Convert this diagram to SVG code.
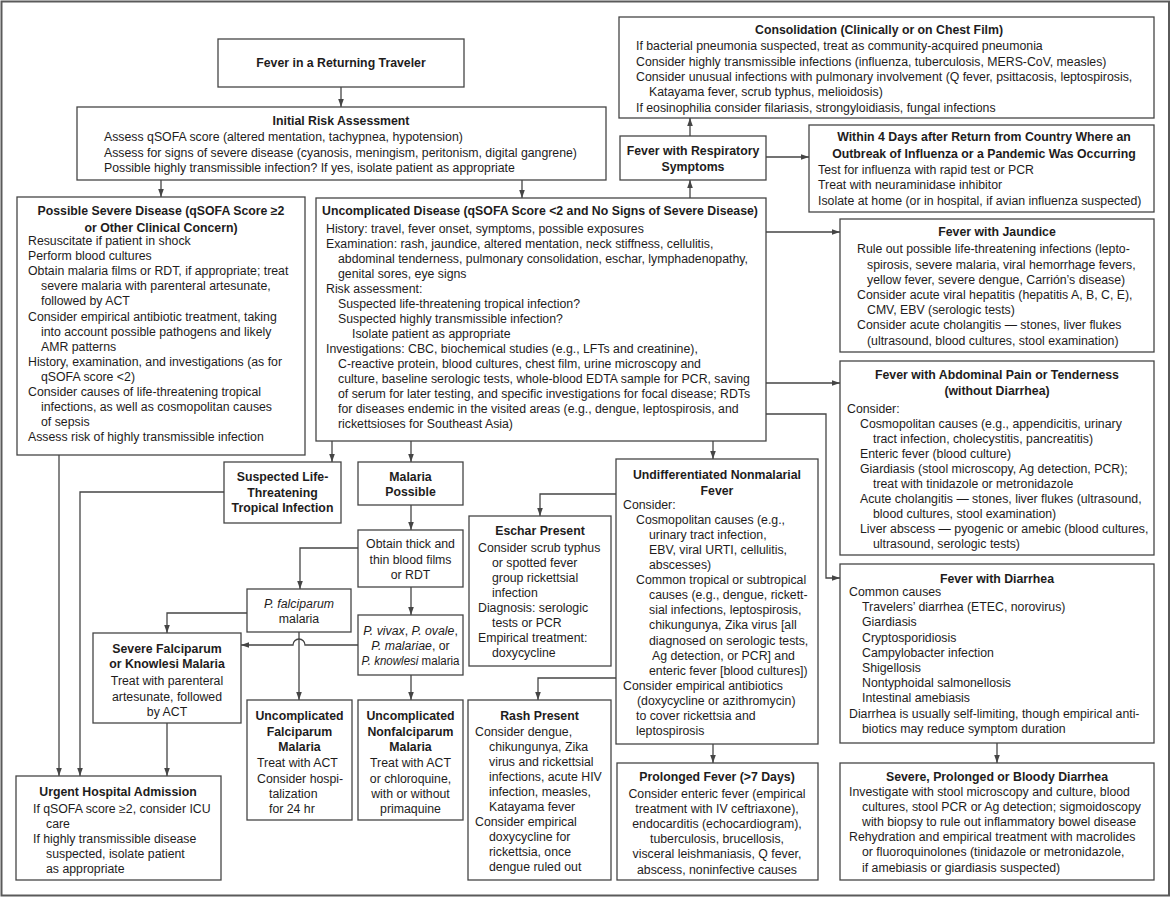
<svg xmlns="http://www.w3.org/2000/svg" width="1174" height="898" viewBox="0 0 1174 898">
<style>
text{font-family:"Liberation Sans",Arial,sans-serif;font-size:12.3px;fill:#1e1c1c}
.h{font-weight:bold;font-size:12.3px}
.m{text-anchor:middle}
.i{font-style:italic}
.box{fill:#fff;stroke:#454545;stroke-width:1.3}
.frame{fill:#fff;stroke:#5a5a5a;stroke-width:2}
#connectors path{fill:none;stroke:#454545;stroke-width:1.3;marker-end:url(#arr)}
</style>
<defs>
<marker id="arr" viewBox="0 0 10 10" refX="10" refY="5" markerWidth="8" markerHeight="8" markerUnits="userSpaceOnUse" orient="auto">
<path d="M0,1.5 L10,5 L0,8.5 z" fill="#454545"/>
</marker>
</defs>
<rect class="frame" x="1.5" y="1.5" width="1167.5" height="894"/>

<g id="connectors">
<path d="M341,87 V107"/>
<path d="M161,180 V197"/>
<path d="M522,180 V198"/>
<path d="M690,198 V180"/>
<path d="M690,136 V118"/>
<path d="M766,157 H809"/>
<path d="M766,232 H840"/>
<path d="M766,383 H840"/>
<path d="M766,414 H826 V578 H840"/>
<path d="M332,441 V462"/>
<path d="M411,441 V462"/>
<path d="M713,441 V459"/>
<path d="M411,505 V530"/>
<path d="M358,548 H300 V589"/>
<path d="M616,494 H540 V516"/>
<path d="M616,678 H538 V700"/>
<path d="M247,613 H167 V633"/>
<path d="M358,645 H305 A6,6 0 0 0 293,645 H241"/>
<path d="M299,632 V700"/>
<path d="M411,587 V615"/>
<path d="M411,675 V700"/>
<path d="M167,723 V776"/>
<path d="M59,455 V776"/>
<path d="M224,492 H80 V776"/>
<path d="M713,744 V763"/>
<path d="M997,743 V763"/>
</g>

<g id="start">
<rect class="box" x="218" y="39" width="246" height="48"/>
<text class="h m" x="341" y="67">Fever in a Returning Traveler</text>
</g>

<g id="initial">
<rect class="box" x="77" y="107" width="529" height="73"/>
<text class="h m" x="341" y="125">Initial Risk Assessment</text>
<text x="104" y="141">Assess qSOFA score (altered mentation, tachypnea, hypotension)</text>
<text x="104" y="156.7">Assess for signs of severe disease (cyanosis, meningism, peritonism, digital gangrene)</text>
<text x="104" y="171.7">Possible highly transmissible infection? If yes, isolate patient as appropriate</text>
</g>

<g id="severe">
<rect class="box" x="17" y="197" width="288" height="258"/>
<text class="h m" x="161" y="215">Possible Severe Disease (qSOFA Score ≥2</text>
<text class="h m" x="161" y="231.5">or Other Clinical Concern)</text>
<text x="28" y="245">Resuscitate if patient in shock</text>
<text x="28" y="260.1">Perform blood cultures</text>
<text x="28" y="275.2">Obtain malaria films or RDT, if appropriate; treat</text>
<text x="41" y="290.3">severe malaria with parenteral artesunate,</text>
<text x="41" y="305.4">followed by ACT</text>
<text x="28" y="320.5">Consider empirical antibiotic treatment, taking</text>
<text x="41" y="335.6">into account possible pathogens and likely</text>
<text x="41" y="350.7">AMR patterns</text>
<text x="28" y="365.8">History, examination, and investigations (as for</text>
<text x="41" y="380.9">qSOFA score &lt;2)</text>
<text x="28" y="396">Consider causes of life-threatening tropical</text>
<text x="41" y="411.1">infections, as well as cosmopolitan causes</text>
<text x="41" y="426.2">of sepsis</text>
<text x="28" y="441.3">Assess risk of highly transmissible infection</text>
</g>

<g id="uncomplicated">
<rect class="box" x="316" y="198" width="450" height="243"/>
<text class="h m" x="540" y="215">Uncomplicated Disease (qSOFA Score &lt;2 and No Signs of Severe Disease)</text>
<text x="326" y="232.6">History: travel, fever onset, symptoms, possible exposures</text>
<text x="326" y="247.7">Examination: rash, jaundice, altered mentation, neck stiffness, cellulitis,</text>
<text x="338" y="262.7">abdominal tenderness, pulmonary consolidation, eschar, lymphadenopathy,</text>
<text x="338" y="277.8">genital sores, eye signs</text>
<text x="326" y="292.8">Risk assessment:</text>
<text x="338" y="307.9">Suspected life-threatening tropical infection?</text>
<text x="338" y="322.9">Suspected highly transmissible infection?</text>
<text x="352" y="338">Isolate patient as appropriate</text>
<text x="326" y="353">Investigations: CBC, biochemical studies (e.g., LFTs and creatinine),</text>
<text x="338" y="368.1">C-reactive protein, blood cultures, chest film, urine microscopy and</text>
<text x="338" y="383.1">culture, baseline serologic tests, whole-blood EDTA sample for PCR, saving</text>
<text x="338" y="398.2">of serum for later testing, and specific investigations for focal disease; RDTs</text>
<text x="338" y="413.2">for diseases endemic in the visited areas (e.g., dengue, leptospirosis, and</text>
<text x="338" y="428.3">rickettsioses for Southeast Asia)</text>
</g>

<g id="respiratory">
<rect class="box" x="620" y="136" width="146" height="44"/>
<text class="h m" x="693" y="155">Fever with Respiratory</text>
<text class="h m" x="693" y="170.5">Symptoms</text>
</g>

<g id="consolidation">
<rect class="box" x="619" y="17" width="535" height="101"/>
<text class="h m" x="879" y="34">Consolidation (Clinically or on Chest Film)</text>
<text x="636" y="50">If bacterial pneumonia suspected, treat as community-acquired pneumonia</text>
<text x="636" y="65.6">Consider highly transmissible infections (influenza, tuberculosis, MERS-CoV, measles)</text>
<text x="636" y="81">Consider unusual infections with pulmonary involvement (Q fever, psittacosis, leptospirosis,</text>
<text x="649" y="96.3">Katayama fever, scrub typhus, melioidosis)</text>
<text x="636" y="111.6">If eosinophilia consider filariasis, strongyloidiasis, fungal infections</text>
</g>

<g id="within4days">
<rect class="box" x="809" y="125" width="345" height="87"/>
<text class="h m" x="984" y="141">Within 4 Days after Return from Country Where an</text>
<text class="h m" x="984" y="157.6">Outbreak of Influenza or a Pandemic Was Occurring</text>
<text x="818" y="174.3">Test for influenza with rapid test or PCR</text>
<text x="818" y="189.3">Treat with neuraminidase inhibitor</text>
<text x="818" y="205">Isolate at home (or in hospital, if avian influenza suspected)</text>
</g>

<g id="jaundice">
<rect class="box" x="840" y="219" width="314" height="133"/>
<text class="h m" x="997" y="236">Fever with Jaundice</text>
<text x="857" y="253.3">Rule out possible life-threatening infections (lepto-</text>
<text x="867" y="268.5">spirosis, severe malaria, viral hemorrhage fevers,</text>
<text x="867" y="283.7">yellow fever, severe dengue, Carrión’s disease)</text>
<text x="857" y="298.9">Consider acute viral hepatitis (hepatitis A, B, C, E),</text>
<text x="867" y="314.1">CMV, EBV (serologic tests)</text>
<text x="857" y="329.3">Consider acute cholangitis — stones, liver flukes</text>
<text x="867" y="344.5">(ultrasound, blood cultures, stool examination)</text>
</g>

<g id="abdominal">
<rect class="box" x="840" y="361" width="314" height="194"/>
<text class="h m" x="997" y="379.3">Fever with Abdominal Pain or Tenderness</text>
<text class="h m" x="997" y="395">(without Diarrhea)</text>
<text x="847" y="412.6">Consider:</text>
<text x="860" y="427.7">Cosmopolitan causes (e.g., appendicitis, urinary</text>
<text x="873" y="442.8">tract infection, cholecystitis, pancreatitis)</text>
<text x="860" y="457.8">Enteric fever (blood culture)</text>
<text x="860" y="472.9">Giardiasis (stool microscopy, Ag detection, PCR);</text>
<text x="873" y="488">treat with tinidazole or metronidazole</text>
<text x="860" y="503.1">Acute cholangitis — stones, liver flukes (ultrasound,</text>
<text x="873" y="518.2">blood cultures, stool examination)</text>
<text x="860" y="533.2">Liver abscess — pyogenic or amebic (blood cultures,</text>
<text x="873" y="548.3">ultrasound, serologic tests)</text>
</g>

<g id="diarrhea">
<rect class="box" x="840" y="564" width="314" height="179"/>
<text class="h m" x="997" y="582.6">Fever with Diarrhea</text>
<text x="849" y="596">Common causes</text>
<text x="862" y="611.2">Travelers’ diarrhea (ETEC, norovirus)</text>
<text x="862" y="626.4">Giardiasis</text>
<text x="862" y="641.6">Cryptosporidiosis</text>
<text x="862" y="656.8">Campylobacter infection</text>
<text x="862" y="672">Shigellosis</text>
<text x="862" y="687.2">Nontyphoidal salmonellosis</text>
<text x="862" y="702.4">Intestinal amebiasis</text>
<text x="849" y="717.6">Diarrhea is usually self-limiting, though empirical anti-</text>
<text x="862" y="732.8">biotics may reduce symptom duration</text>
</g>

<g id="severeDiarrhea">
<rect class="box" x="840" y="763" width="314" height="117"/>
<text class="h m" x="997" y="781.3">Severe, Prolonged or Bloody Diarrhea</text>
<text x="849" y="796">Investigate with stool microscopy and culture, blood</text>
<text x="862" y="811.1">cultures, stool PCR or Ag detection; sigmoidoscopy</text>
<text x="862" y="826.2">with biopsy to rule out inflammatory bowel disease</text>
<text x="849" y="841.3">Rehydration and empirical treatment with macrolides</text>
<text x="862" y="856.4">or fluoroquinolones (tinidazole or metronidazole,</text>
<text x="862" y="871.5">if amebiasis or giardiasis suspected)</text>
</g>

<g id="suspectedTropical">
<rect class="box" x="224" y="462" width="117" height="61"/>
<text class="h m" x="282.5" y="481">Suspected Life-</text>
<text class="h m" x="282.5" y="496.5">Threatening</text>
<text class="h m" x="282.5" y="512">Tropical Infection</text>
</g>

<g id="malariaPossible">
<rect class="box" x="358" y="462" width="105" height="43"/>
<text class="h m" x="410.5" y="480.5">Malaria</text>
<text class="h m" x="410.5" y="496">Possible</text>
</g>

<g id="bloodFilms">
<rect class="box" x="358" y="530" width="105" height="57"/>
<text class="m" x="410.5" y="548.3">Obtain thick and</text>
<text class="m" x="410.5" y="564">thin blood films</text>
<text class="m" x="410.5" y="579.3">or RDT</text>
</g>

<g id="pFalciparum">
<rect class="box" x="247" y="589" width="104" height="43"/>
<text class="m i" x="299" y="608">P. falciparum</text>
<text class="m" x="299" y="623">malaria</text>
</g>

<g id="pVivax">
<rect class="box" x="358" y="615" width="105" height="60"/>
<text class="m" x="410.5" y="634.5"><tspan class="i">P. vivax</tspan>, <tspan class="i">P. ovale</tspan>,</text>
<text class="m" x="410.5" y="649.6"><tspan class="i">P. malariae</tspan>, or</text>
<text class="m" x="410.5" y="665" textLength="98" lengthAdjust="spacingAndGlyphs"><tspan class="i">P. knowlesi</tspan> malaria</text>
</g>

<g id="severeFalciparum">
<rect class="box" x="93" y="633" width="148" height="90"/>
<text class="h m" x="167" y="652.6">Severe Falciparum</text>
<text class="h m" x="167" y="668.3">or Knowlesi Malaria</text>
<text class="m" x="167" y="684.6">Treat with parenteral</text>
<text class="m" x="167" y="700.5">artesunate, followed</text>
<text class="m" x="167" y="715.6">by ACT</text>
</g>

<g id="urgentAdmission">
<rect class="box" x="16" y="776" width="205" height="104"/>
<text class="h m" x="118" y="795.6">Urgent Hospital Admission</text>
<text x="33" y="813">If qSOFA score ≥2, consider ICU</text>
<text x="46" y="828.1">care</text>
<text x="33" y="843.2">If highly transmissible disease</text>
<text x="46" y="858.3">suspected, isolate patient</text>
<text x="46" y="873.4">as appropriate</text>
</g>

<g id="uncomplicatedFalciparum">
<rect class="box" x="247" y="700" width="105" height="120"/>
<text class="h m" x="299.5" y="719.6">Uncomplicated</text>
<text class="h m" x="299.5" y="735.6">Falciparum</text>
<text class="h m" x="299.5" y="750.6">Malaria</text>
<text x="257" y="767.3">Treat with ACT</text>
<text x="257" y="782.9">Consider hospi-</text>
<text x="269" y="798.2">talization</text>
<text x="269" y="813.4">for 24 hr</text>
</g>

<g id="uncomplicatedNonfalciparum">
<rect class="box" x="358" y="700" width="105" height="120"/>
<text class="h m" x="410.5" y="719.6">Uncomplicated</text>
<text class="h m" x="410.5" y="735.6">Nonfalciparum</text>
<text class="h m" x="410.5" y="750.6">Malaria</text>
<text class="m" x="410.5" y="767.3">Treat with ACT</text>
<text class="m" x="410.5" y="782.9">or chloroquine,</text>
<text class="m" x="410.5" y="798.2">with or without</text>
<text class="m" x="410.5" y="813.4">primaquine</text>
</g>

<g id="eschar">
<rect class="box" x="469" y="516" width="142" height="150"/>
<text class="h m" x="540" y="535.3">Eschar Present</text>
<text x="478" y="551.6">Consider scrub typhus</text>
<text x="492" y="566.7">or spotted fever</text>
<text x="492" y="581.8">group rickettsial</text>
<text x="492" y="596.9">infection</text>
<text x="478" y="612">Diagnosis: serologic</text>
<text x="492" y="627.1">tests or PCR</text>
<text x="478" y="642.2">Empirical treatment:</text>
<text x="492" y="657.3">doxycycline</text>
</g>

<g id="rash">
<rect class="box" x="468" y="700" width="143" height="180"/>
<text class="h m" x="539.5" y="719.6">Rash Present</text>
<text x="475" y="735.6">Consider dengue,</text>
<text x="489" y="750.7">chikungunya, Zika</text>
<text x="489" y="765.7">virus and rickettsial</text>
<text x="489" y="780.8">infections, acute HIV</text>
<text x="489" y="795.9">infection, measles,</text>
<text x="489" y="810.9">Katayama fever</text>
<text x="475" y="826">Consider empirical</text>
<text x="489" y="841.1">doxycycline for</text>
<text x="489" y="856.2">rickettsia, once</text>
<text x="489" y="871.2">dengue ruled out</text>
</g>

<g id="undifferentiated">
<rect class="box" x="616" y="459" width="202" height="285"/>
<text class="h m" x="717" y="478.6">Undifferentiated Nonmalarial</text>
<text class="h m" x="717" y="495.3">Fever</text>
<text x="623" y="508.6">Consider:</text>
<text x="636" y="523.7">Cosmopolitan causes (e.g.,</text>
<text x="649" y="538.8">urinary tract infection,</text>
<text x="649" y="553.9">EBV, viral URTI, cellulitis,</text>
<text x="649" y="569">abscesses)</text>
<text x="636" y="584.1">Common tropical or subtropical</text>
<text x="649" y="599.2">causes (e.g., dengue, rickett-</text>
<text x="649" y="614.3">sial infections, leptospirosis,</text>
<text x="649" y="629.4">chikungunya, Zika virus [all</text>
<text x="649" y="644.5">diagnosed on serologic tests,</text>
<text x="652" y="659.6">Ag detection, or PCR] and</text>
<text x="649" y="674.7">enteric fever [blood cultures])</text>
<text x="623" y="689.8">Consider empirical antibiotics</text>
<text x="637" y="704.9">(doxycycline or azithromycin)</text>
<text x="636" y="720">to cover rickettsia and</text>
<text x="636" y="735.1">leptospirosis</text>
</g>

<g id="prolonged">
<rect class="box" x="617" y="763" width="201" height="117"/>
<text class="h m" x="717" y="781.3">Prolonged Fever (&gt;7 Days)</text>
<text class="m" x="717" y="798">Consider enteric fever (empirical</text>
<text class="m" x="717" y="813.1">treatment with IV ceftriaxone),</text>
<text class="m" x="717" y="828.2">endocarditis (echocardiogram),</text>
<text class="m" x="717" y="843.3">tuberculosis, brucellosis,</text>
<text class="m" x="717" y="858.4">visceral leishmaniasis, Q fever,</text>
<text class="m" x="717" y="873.5">abscess, noninfective causes</text>
</g>
</svg>
